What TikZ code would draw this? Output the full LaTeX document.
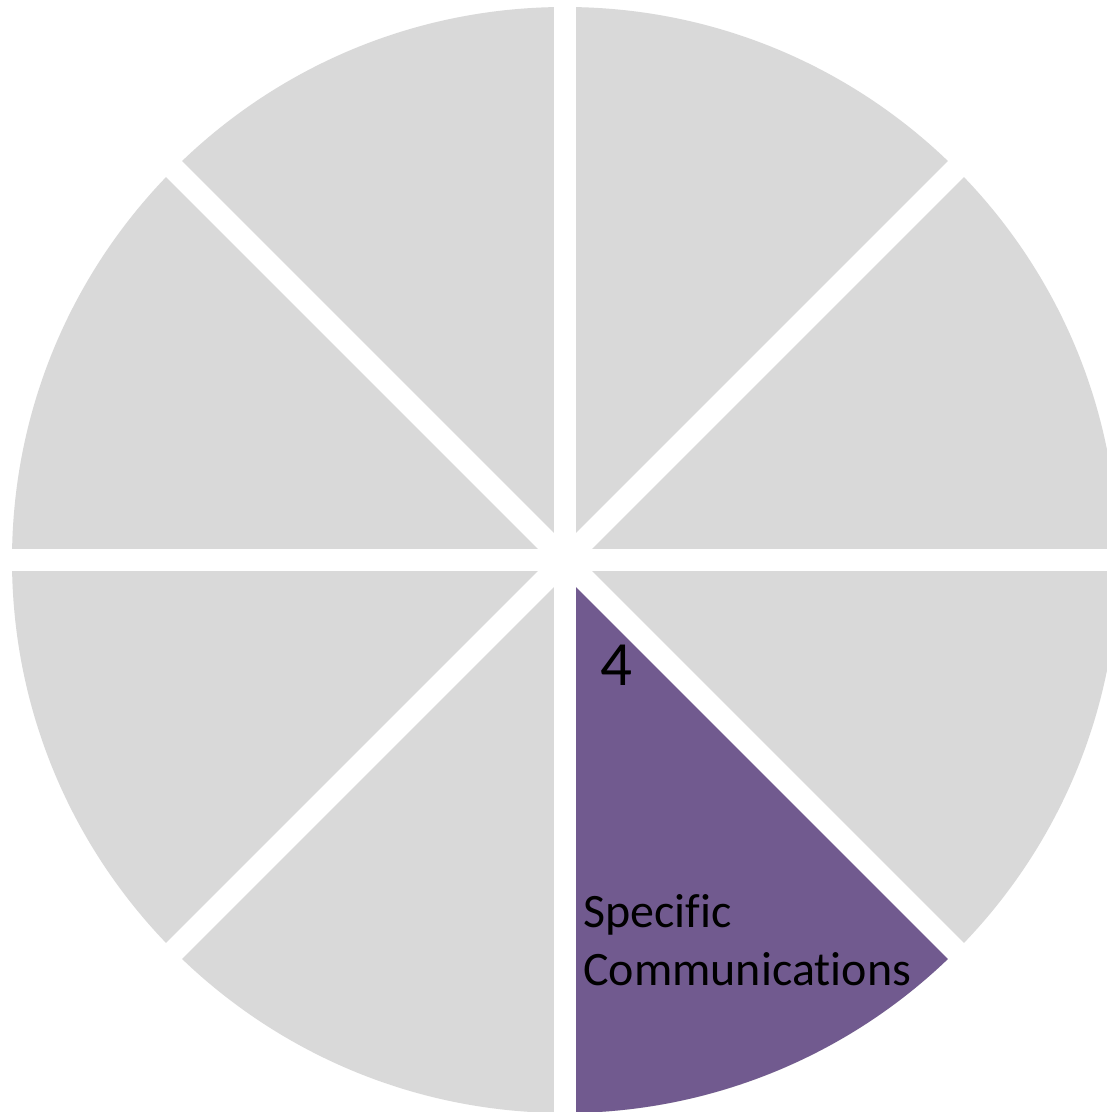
\documentclass[tikz,border=0pt]{standalone}
\usepackage{fontspec}
\setmainfont{Carlito}[Ligatures={NoCommon}]
\usetikzlibrary{calc}
\definecolor{sectorgray}{HTML}{D9D9D9}
\definecolor{sectorpurple}{HTML}{715A8F}
\tikzset{
  gapline/.style={draw=white, line width=22.5pt},
  biglabel/.style={anchor=base west, inner sep=0pt, font=\fontsize{63}{70}\selectfont},
  textlabel/.style={anchor=base west, inner sep=0pt, align=left, font=\fontsize{48}{58}\selectfont}
}
\begin{document}
\begin{tikzpicture}[x=1pt,y=-1pt]
\useasboundingbox (0,0) rectangle (1107,1112);
\clip (0,0) rectangle (1107,1112);
\fill[white] (0,0) rectangle (1107,1112);
\coordinate (c) at (565,560);
\fill[sectorgray] (c) circle[radius=553];
\fill[sectorpurple] (c) -- ++(45:553) arc[start angle=45,end angle=90,radius=553] -- cycle;
\foreach \a in {0,45,90,135}{
  \draw[gapline] ($(c)+(\a:620)$) -- ($(c)+(\a+180:620)$);
}
\node[biglabel] (num) at (600,685) {4};
\node[textlabel] (l1) at (583,927) {Specific};
\node[textlabel] (l2) at (583,985) {Communications};
\end{tikzpicture}
\end{document}
